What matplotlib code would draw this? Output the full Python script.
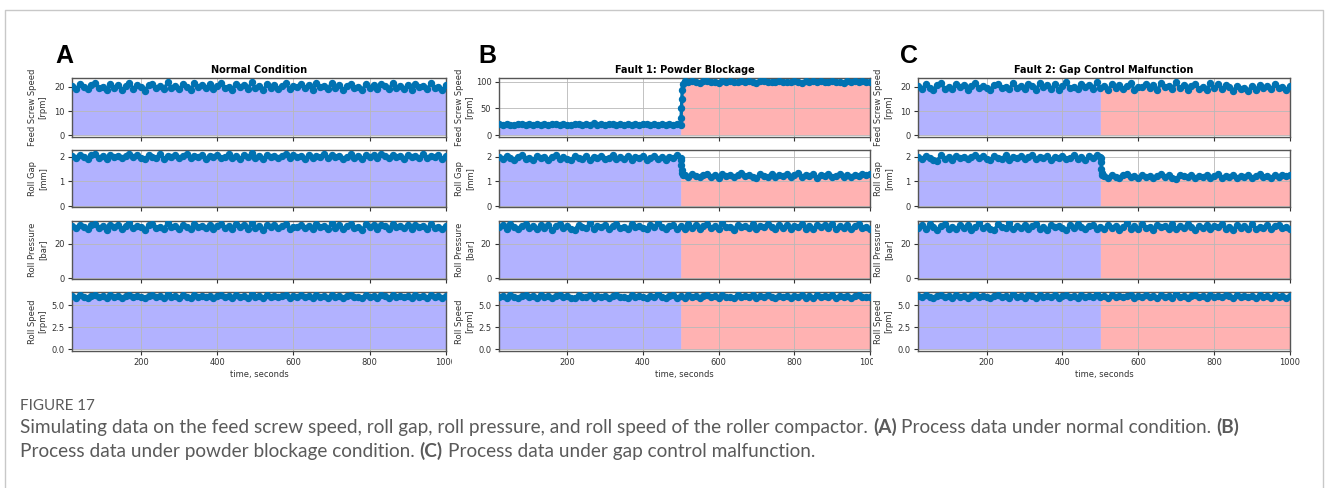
import numpy as np
import matplotlib
matplotlib.use("Agg")
import matplotlib.pyplot as plt
from matplotlib.patches import Rectangle
from matplotlib.lines import Line2D

W, H = 1328, 488

# time axis (seconds)
time = list(range(20, 1001, 10))
time_before = list(range(20, 501, 10))
step_time = [501, 502, 503, 504, 505]
time_after = list(range(510, 1001, 10))
time_fault = time_before + step_time + time_after

# --- A: normal condition ---
feed_a = [20.4, 19.1, 21.2, 19.8, 18.9, 20.7, 21.5, 19.3, 20.1, 18.6,
          21.0, 19.7, 20.9, 18.8, 20.3, 21.7, 19.2, 20.6, 19.9, 18.4,
          20.8, 21.3, 19.5, 20.2, 18.9, 21.9, 19.6, 20.5, 19.0, 21.1,
          20.0, 18.7, 21.4, 19.8, 20.6, 19.3, 21.0, 18.9, 20.4, 21.6,
          19.4, 20.1, 18.8, 21.2, 19.9, 20.7, 19.1, 21.8, 19.6, 20.3,
          18.5, 21.0, 19.7, 20.9, 19.2, 20.5, 21.4, 18.9, 20.2, 19.8,
          21.1, 19.4, 20.6, 18.7, 21.5, 19.9, 20.3, 19.0, 21.7, 19.5,
          20.8, 18.8, 20.4, 21.2, 19.3, 20.0, 18.6, 21.3, 19.7, 20.9,
          19.1, 21.0, 20.2, 18.9, 21.6, 19.6, 20.5, 19.2, 20.8, 18.7,
          21.1, 19.9, 20.4, 19.0, 21.4, 19.5, 20.1, 18.8, 20.6]
gap_a = [2.03, 1.96, 2.08, 1.99, 1.92, 2.05, 2.10, 1.95, 2.01, 1.90,
         2.06, 1.98, 2.04, 1.93, 2.02, 2.11, 1.97, 2.05, 1.94, 1.89,
         2.07, 2.00, 1.96, 2.09, 1.92, 2.03, 1.98, 2.06, 1.95, 2.01,
         2.12, 1.94, 2.02, 1.97, 2.08, 1.91, 2.04, 1.99, 2.06, 1.93,
         2.00, 2.09, 1.96, 2.03, 1.92, 2.05, 1.98, 2.13, 1.95, 2.02,
         1.90, 2.07, 1.97, 2.04, 1.94, 2.01, 2.10, 1.93, 2.05, 1.98,
         2.03, 1.91, 2.08, 1.96, 2.02, 1.99, 2.11, 1.94, 2.06, 1.97,
         2.04, 1.92, 2.00, 2.09, 1.95, 2.03, 1.89, 2.07, 1.98, 2.05,
         1.96, 2.12, 2.01, 1.93, 2.06, 1.97, 2.03, 1.91, 2.08, 1.99,
         2.04, 1.95, 2.10, 1.94, 2.02, 1.97, 2.06, 1.92, 2.01]
pressure_a = [30.4, 29.1, 31.3, 29.8, 28.7, 30.9, 31.8, 29.3, 30.2, 28.4,
              31.1, 29.6, 30.8, 28.6, 30.3, 32.0, 29.2, 30.7, 29.9, 28.2,
              30.9, 31.5, 29.4, 30.1, 28.8, 32.2, 29.7, 30.5, 28.9, 31.2,
              30.0, 28.5, 31.6, 29.8, 30.6, 29.1, 31.0, 28.7, 30.4, 31.9,
              29.3, 30.2, 28.6, 31.4, 29.9, 30.8, 29.0, 32.1, 29.5, 30.3,
              28.3, 31.1, 29.7, 30.9, 29.2, 30.5, 31.7, 28.8, 30.1, 29.8,
              31.3, 29.4, 30.7, 28.5, 31.8, 29.9, 30.3, 28.9, 32.0, 29.5,
              30.8, 28.6, 30.4, 31.5, 29.3, 30.0, 28.4, 31.6, 29.7, 30.9,
              29.0, 31.2, 30.2, 28.7, 31.9, 29.6, 30.5, 29.1, 30.8, 28.5,
              31.1, 29.9, 30.4, 28.9, 31.7, 29.5, 30.1, 28.6, 30.6]
speed_a = [6.05, 5.88, 6.14, 5.97, 5.83, 6.09, 6.21, 5.91, 6.02, 5.80,
           6.12, 5.95, 6.07, 5.85, 6.03, 6.23, 5.90, 6.08, 5.98, 5.78,
           6.10, 6.17, 5.93, 6.01, 5.86, 6.25, 5.96, 6.06, 5.87, 6.13,
           6.00, 5.82, 6.18, 5.97, 6.08, 5.89, 6.11, 5.84, 6.04, 6.22,
           5.92, 6.02, 5.85, 6.15, 5.98, 6.09, 5.88, 6.24, 5.94, 6.03,
           5.79, 6.12, 5.96, 6.10, 5.90, 6.06, 6.20, 5.86, 6.01, 5.97,
           6.14, 5.92, 6.07, 5.83, 6.19, 5.98, 6.03, 5.87, 6.23, 5.94,
           6.09, 5.84, 6.05, 6.16, 5.91, 6.00, 5.81, 6.17, 5.96, 6.10,
           5.88, 6.13, 6.02, 5.85, 6.21, 5.95, 6.06, 5.89, 6.09, 5.82,
           6.12, 5.98, 6.04, 5.87, 6.19, 5.93, 6.01, 5.84, 6.07]

# --- B: powder blockage ---
feed_b_before = [20.3, 19.2, 21.1, 19.7, 18.8, 20.6, 21.4, 19.4, 20.0, 18.7,
                 20.9, 19.5, 20.8, 18.9, 20.2, 21.6, 19.1, 20.5, 19.8, 18.5,
                 20.7, 21.2, 19.6, 20.1, 18.9, 21.8, 19.5, 20.4, 19.0, 21.0,
                 19.9, 18.6, 21.3, 19.7, 20.5, 19.2, 20.9, 18.8, 20.3, 21.5,
                 19.3, 20.0, 18.9, 21.1, 19.8, 20.6, 19.0, 21.7, 19.6]
feed_b_step = [32.0, 50.0, 68.0, 84.0, 96.0]
feed_b_after = [100.6, 98.9, 101.4, 99.7, 98.3, 100.9, 102.0, 99.2, 100.3, 98.1,
                101.2, 99.5, 100.8, 98.6, 100.2, 101.8, 99.0, 100.7, 99.8, 97.9,
                100.9, 101.5, 99.3, 100.1, 98.7, 102.2, 99.6, 100.4, 98.8, 101.1,
                100.0, 98.4, 101.6, 99.8, 100.6, 99.1, 101.0, 98.6, 100.4, 101.9,
                99.2, 100.1, 98.5, 101.3, 99.9, 100.8, 98.9, 102.1, 99.5, 100.3]
gap_b_before = [1.97, 1.90, 2.03, 1.94, 1.87, 2.00, 2.06, 1.91, 1.96, 1.86,
                2.02, 1.93, 1.99, 1.88, 1.97, 2.07, 1.92, 2.00, 1.89, 1.85,
                2.02, 1.95, 1.91, 2.04, 1.87, 1.98, 1.93, 2.01, 1.90, 1.96,
                2.08, 1.89, 1.97, 1.92, 2.03, 1.86, 1.99, 1.94, 2.01, 1.88,
                1.95, 2.04, 1.91, 1.98, 1.87, 2.00, 1.93, 2.06, 1.96]
gap_b_step = [1.85, 1.65, 1.45, 1.32, 1.27]
gap_b_after = [1.24, 1.18, 1.29, 1.21, 1.16, 1.27, 1.31, 1.19, 1.25, 1.15,
               1.28, 1.22, 1.26, 1.17, 1.24, 1.32, 1.20, 1.27, 1.18, 1.14,
               1.29, 1.23, 1.19, 1.30, 1.16, 1.25, 1.21, 1.28, 1.18, 1.24,
               1.33, 1.17, 1.25, 1.20, 1.29, 1.15, 1.26, 1.22, 1.28, 1.17,
               1.23, 1.31, 1.19, 1.26, 1.16, 1.27, 1.21, 1.30, 1.24, 1.29]
pressure_b = [29.6, 30.8, 28.9, 31.4, 29.9, 28.5, 30.6, 31.7, 29.2, 30.3,
              28.7, 31.1, 29.5, 30.9, 28.4, 30.2, 31.9, 29.4, 30.6, 29.0,
              28.3, 31.3, 30.0, 29.3, 32.0, 28.8, 30.5, 29.7, 31.2, 28.9,
              30.4, 31.6, 29.1, 30.1, 28.6, 31.5, 29.8, 30.7, 29.3, 28.5,
              31.0, 29.6, 32.1, 29.9, 28.7, 30.5, 31.3, 29.0, 30.2, 28.8,
              31.4, 29.5, 30.9, 28.6, 30.3, 31.8, 29.2, 30.6, 28.9, 32.2,
              29.7, 30.1, 28.4, 31.2, 29.9, 30.7, 29.1, 31.5, 28.8, 30.4,
              29.6, 31.9, 30.0, 28.5, 30.8, 29.3, 31.1, 28.7, 30.5, 29.8,
              31.6, 29.0, 30.3, 28.6, 31.3, 29.7, 30.9, 29.2, 31.7, 28.9,
              30.2, 29.5, 31.0, 28.8, 30.6, 31.4, 29.4, 30.1, 29.0]
speed_b = [5.94, 6.08, 5.85, 6.15, 5.97, 5.81, 6.06, 6.19, 5.90, 6.02,
           5.84, 6.12, 5.93, 6.09, 5.80, 6.01, 6.21, 5.91, 6.05, 5.87,
           5.78, 6.13, 5.99, 5.92, 6.23, 5.86, 6.04, 5.96, 6.11, 5.88,
           6.03, 6.17, 5.89, 6.00, 5.83, 6.16, 5.97, 6.07, 5.92, 5.82,
           6.10, 5.95, 6.24, 5.98, 5.85, 6.04, 6.14, 5.88, 6.01, 5.86,
           6.15, 5.93, 6.09, 5.84, 6.02, 6.20, 5.90, 6.06, 5.87, 6.22,
           5.96, 6.00, 5.81, 6.12, 5.98, 6.07, 5.89, 6.16, 5.86, 6.03,
           5.94, 6.19, 5.99, 5.82, 6.08, 5.91, 6.11, 5.85, 6.05, 5.97,
           6.17, 5.88, 6.02, 5.84, 6.14, 5.95, 6.09, 5.90, 6.18, 5.87,
           6.01, 5.93, 6.10, 5.86, 6.06, 6.15, 5.92, 6.00, 5.89]

# --- C: gap control malfunction ---
feed_c = [20.2, 19.0, 21.3, 19.6, 18.8, 20.8, 21.5, 19.2, 20.0, 18.9,
          21.1, 19.8, 20.6, 18.6, 20.4, 21.7, 19.4, 20.3, 19.7, 18.7,
          20.9, 21.2, 19.5, 20.1, 18.9, 21.6, 19.7, 20.5, 19.1, 21.0,
          20.3, 18.8, 21.4, 19.9, 20.7, 19.2, 21.1, 18.7, 20.2, 21.8,
          19.5, 20.0, 18.9, 21.3, 19.8, 20.6, 19.0, 21.9, 19.4, 20.4,
          18.6, 21.2, 19.6, 20.8, 19.1, 20.3, 21.5, 18.8, 20.1, 19.9,
          21.0, 19.3, 20.7, 18.6, 21.6, 19.8, 20.2, 19.1, 21.8, 19.4,
          20.9, 18.7, 20.5, 21.3, 19.2, 20.1, 18.5, 21.4, 19.6, 21.0,
          19.0, 20.8, 19.9, 18.4, 20.2, 18.9, 19.6, 18.3, 20.5, 18.8,
          20.9, 19.7, 20.3, 18.9, 21.2, 19.4, 20.0, 18.7, 20.4]
gap_c_before = [1.98, 1.91, 2.04, 1.95, 1.88, 1.84, 2.07, 1.92, 1.97, 1.87,
                2.03, 1.94, 2.00, 1.89, 1.98, 2.06, 1.93, 2.01, 1.90, 1.86,
                2.03, 1.96, 1.92, 2.05, 1.88, 1.99, 1.94, 2.02, 1.91, 1.97,
                2.07, 1.90, 1.98, 1.93, 2.04, 1.87, 2.00, 1.95, 2.02, 1.89,
                1.96, 2.05, 1.92, 1.99, 1.88, 2.01, 1.94, 2.06, 1.97]
gap_c_step = [1.93, 1.78, 1.52, 1.33, 1.24]
gap_c_after = [1.21, 1.15, 1.26, 1.18, 1.13, 1.24, 1.28, 1.16, 1.22, 1.12,
               1.25, 1.19, 1.23, 1.14, 1.21, 1.29, 1.17, 1.24, 1.15, 1.11,
               1.26, 1.20, 1.16, 1.27, 1.13, 1.22, 1.18, 1.25, 1.15, 1.21,
               1.30, 1.14, 1.22, 1.17, 1.26, 1.12, 1.23, 1.19, 1.25, 1.14,
               1.20, 1.28, 1.16, 1.23, 1.13, 1.24, 1.18, 1.27, 1.21, 1.25]
pressure_c = [29.2, 30.9, 28.6, 31.5, 29.7, 28.3, 30.4, 31.8, 29.0, 30.1,
              28.5, 31.2, 29.3, 30.8, 28.2, 30.0, 32.0, 29.1, 30.5, 28.8,
              28.1, 31.4, 29.8, 29.1, 32.1, 28.6, 30.3, 29.5, 31.0, 28.7,
              30.2, 31.7, 28.9, 29.9, 28.4, 31.3, 29.6, 30.6, 29.1, 28.3,
              30.8, 29.4, 31.9, 29.7, 28.5, 30.3, 31.1, 28.8, 30.0, 28.6,
              31.2, 29.3, 30.7, 28.4, 30.1, 32.2, 29.0, 30.4, 28.7, 31.8,
              29.5, 29.9, 28.2, 31.0, 29.7, 30.5, 28.9, 31.6, 28.6, 30.2,
              29.4, 31.8, 29.8, 28.3, 30.6, 29.1, 30.9, 28.5, 30.3, 29.6,
              31.5, 28.8, 30.1, 28.4, 31.1, 29.5, 30.7, 29.0, 31.6, 28.7,
              30.0, 29.3, 30.8, 28.6, 30.4, 31.2, 29.2, 29.9, 28.8]
speed_c = [6.02, 5.89, 6.16, 5.95, 5.84, 6.11, 6.22, 5.92, 6.03, 5.82,
           6.14, 5.96, 6.08, 5.86, 6.04, 6.24, 5.91, 6.09, 5.99, 5.80,
           6.11, 6.18, 5.94, 6.02, 5.87, 6.26, 5.97, 6.07, 5.88, 6.14,
           6.01, 5.83, 6.19, 5.98, 6.09, 5.90, 6.12, 5.85, 6.05, 6.23,
           5.93, 6.03, 5.86, 6.16, 5.99, 6.10, 5.89, 6.25, 5.95, 6.04,
           5.81, 6.13, 5.97, 6.11, 5.91, 6.07, 6.21, 5.87, 6.02, 5.98,
           6.15, 5.93, 6.08, 5.84, 6.20, 5.99, 6.04, 5.88, 6.24, 5.95,
           6.10, 5.85, 6.06, 6.17, 5.92, 6.01, 5.82, 6.18, 5.97, 6.11,
           5.89, 6.14, 6.03, 5.86, 6.22, 5.96, 6.07, 5.90, 6.10, 5.83,
           6.13, 5.99, 6.05, 5.88, 6.20, 5.94, 6.02, 5.85, 6.08]

feed_b = feed_b_before + feed_b_step + feed_b_after
gap_b = gap_b_before + gap_b_step + gap_b_after
gap_c = gap_c_before + gap_c_step + gap_c_after

row_labels = ["Feed Screw Speed\n[rpm]", "Roll Gap\n[mm]", "Roll Pressure\n[bar]", "Roll Speed\n[rpm]"]
x_ticks = [200, 400, 600, 800, 1000]

caption_head = "FIGURE 17"
caption_line1 = [("Simulating data on the feed screw speed, roll gap, roll pressure, and roll speed "
                  "of the roller compactor.", "normal"), ("(A)", "bold"),
                 ("Process data under normal condition.", "normal"), ("(B)", "bold")]
caption_line2 = [("Process data under powder blockage condition.", "normal"), ("(C)", "bold"),
                 ("Process data under gap control malfunction.", "normal")]

# layout (pixels of the 1328x488 canvas)
row_top = [78.3, 150.0, 221.0, 292.3]
row_bottom = [136.7, 207.3, 279.3, 350.7]
row_ylim = [(-0.6, 23.5), (-0.05, 2.27), (-0.7, 33.4), (-0.15, 6.48)]
row_yticks = [[0, 10, 20], [0, 1, 2], [0, 20], [0.0, 2.5, 5.0]]

panels = [
    dict(letter="A", title="Normal Condition", left=72.3, right=446.0, letter_x=55, fault=False,
         series=[(time, feed_a), (time, gap_a), (time, pressure_a), (time, speed_a)]),
    dict(letter="B", title="Fault 1: Powder Blockage", left=499.0, right=870.0, letter_x=478, fault=True,
         series=[(time_fault, feed_b), (time_fault, gap_b), (time, pressure_b), (time, speed_b)]),
    dict(letter="C", title="Fault 2: Gap Control Malfunction", left=918.3, right=1290.0, letter_x=900,
         fault=True,
         series=[(time, feed_c), (time_fault, gap_c), (time, pressure_c), (time, speed_c)]),
]

LINE_COLOR = "#0072B2"
TEXT_COLOR = "#333333"


def fx(px):
    return px / W


def fy(py):
    return 1 - py / H


fig = plt.figure(figsize=(W / 100, H / 100), dpi=100)
fig.patch.set_facecolor("white")

for p in panels:
    for r in range(4):
        t = np.array(p["series"][r][0], dtype=float)
        y = np.array(p["series"][r][1], dtype=float)
        assert len(t) == len(y), (p["letter"], r, len(t), len(y))
        ax = fig.add_axes([fx(p["left"]), fy(row_bottom[r]),
                           (p["right"] - p["left"]) / W, (row_bottom[r] - row_top[r]) / H])
        if p["fault"]:
            ax.fill_between(t, 0, y, where=t <= 500, color="blue", alpha=0.3, lw=0)
            ax.fill_between(t, 0, y, where=t >= 500, color="red", alpha=0.3, lw=0)
        else:
            ax.fill_between(t, 0, y, color="blue", alpha=0.3, lw=0)
        ax.plot(t, y, "o-", color=LINE_COLOR, ms=4.3, lw=2.4, zorder=3)

        ax.set_xlim(20, 1000)
        if p["letter"] == "B" and r == 0:
            ax.set_ylim(-3.0, 106.4)
            ax.set_yticks([0, 50, 100])
        else:
            ax.set_ylim(*row_ylim[r])
            ax.set_yticks(row_yticks[r])
        if r == 3:
            ax.set_yticklabels(["%.1f" % v for v in row_yticks[r]])
        ax.set_xticks(x_ticks)
        ax.grid(True, color="#b8b8b8", lw=0.6)
        for sp in ax.spines.values():
            sp.set_color("#555555")
            sp.set_linewidth(1.0)
        ax.tick_params(labelsize=6, colors=TEXT_COLOR, length=3, width=0.8, pad=2.5)
        ax.set_ylabel(row_labels[r], fontsize=6, color=TEXT_COLOR, linespacing=1.2)
        ax.yaxis.set_label_coords(-25 / (p["right"] - p["left"]), 0.5)
        if r < 3:
            ax.tick_params(labelbottom=False)
        else:
            ax.set_xlabel("time, seconds", fontsize=6, color=TEXT_COLOR, labelpad=2)
        if r == 0:
            ax.set_title(p["title"], fontsize=7, fontweight="bold", pad=4)

    fig.text(fx(p["letter_x"]), fy(63), p["letter"], fontsize=18, fontweight="bold",
             family="Liberation Sans", va="baseline", ha="left")

# the source panels were cropped, cutting the last "0" of "1000" in A and B
for x0, x1 in [(451.5, 457.0), (873.0, 881.0)]:
    fig.add_artist(Rectangle((fx(x0), fy(368)), (x1 - x0) / W, 14 / H, transform=fig.transFigure,
                             facecolor="white", edgecolor="none", zorder=5))

# light frame around the figure
fig.add_artist(Line2D([fx(5), fx(5), fx(1323), fx(1323)], [fy(490), fy(10), fy(10), fy(490)],
                      transform=fig.transFigure, color="#c8c8c8", lw=1.0, zorder=5))

# caption
CAP_COLOR = "#5a5a5a"
CAP_FONT = "Lato"
renderer = fig.canvas.get_renderer()


def text_width(s, size, weight):
    tx = fig.text(0, 0, s, fontsize=size, fontweight=weight, family=CAP_FONT)
    w = tx.get_window_extent(renderer).width
    tx.remove()
    return w


def runs_width(runs, size):
    space = text_width("a a", size, "normal") - text_width("aa", size, "normal")
    return sum(text_width(s, size, wt) for s, wt in runs) + space * (len(runs) - 1)


def draw_runs(runs, x_px, y_px, size):
    space = text_width("a a", size, "normal") - text_width("aa", size, "normal")
    x = x_px
    for s, wt in runs:
        fig.text(fx(x), fy(y_px), s, fontsize=size, fontweight=wt, family=CAP_FONT,
                 color=CAP_COLOR, va="baseline", ha="left")
        x += text_width(s, size, wt) + space


cap_size = 11.5 * 1220 / runs_width(caption_line1, 11.5)
fig.text(fx(20), fy(410), caption_head, fontsize=cap_size * 0.8, family=CAP_FONT,
         color=CAP_COLOR, va="baseline", ha="left")
draw_runs(caption_line1, 20, 433, cap_size)
draw_runs(caption_line2, 20, 457, cap_size)

fig.savefig("out.png", dpi=100)
